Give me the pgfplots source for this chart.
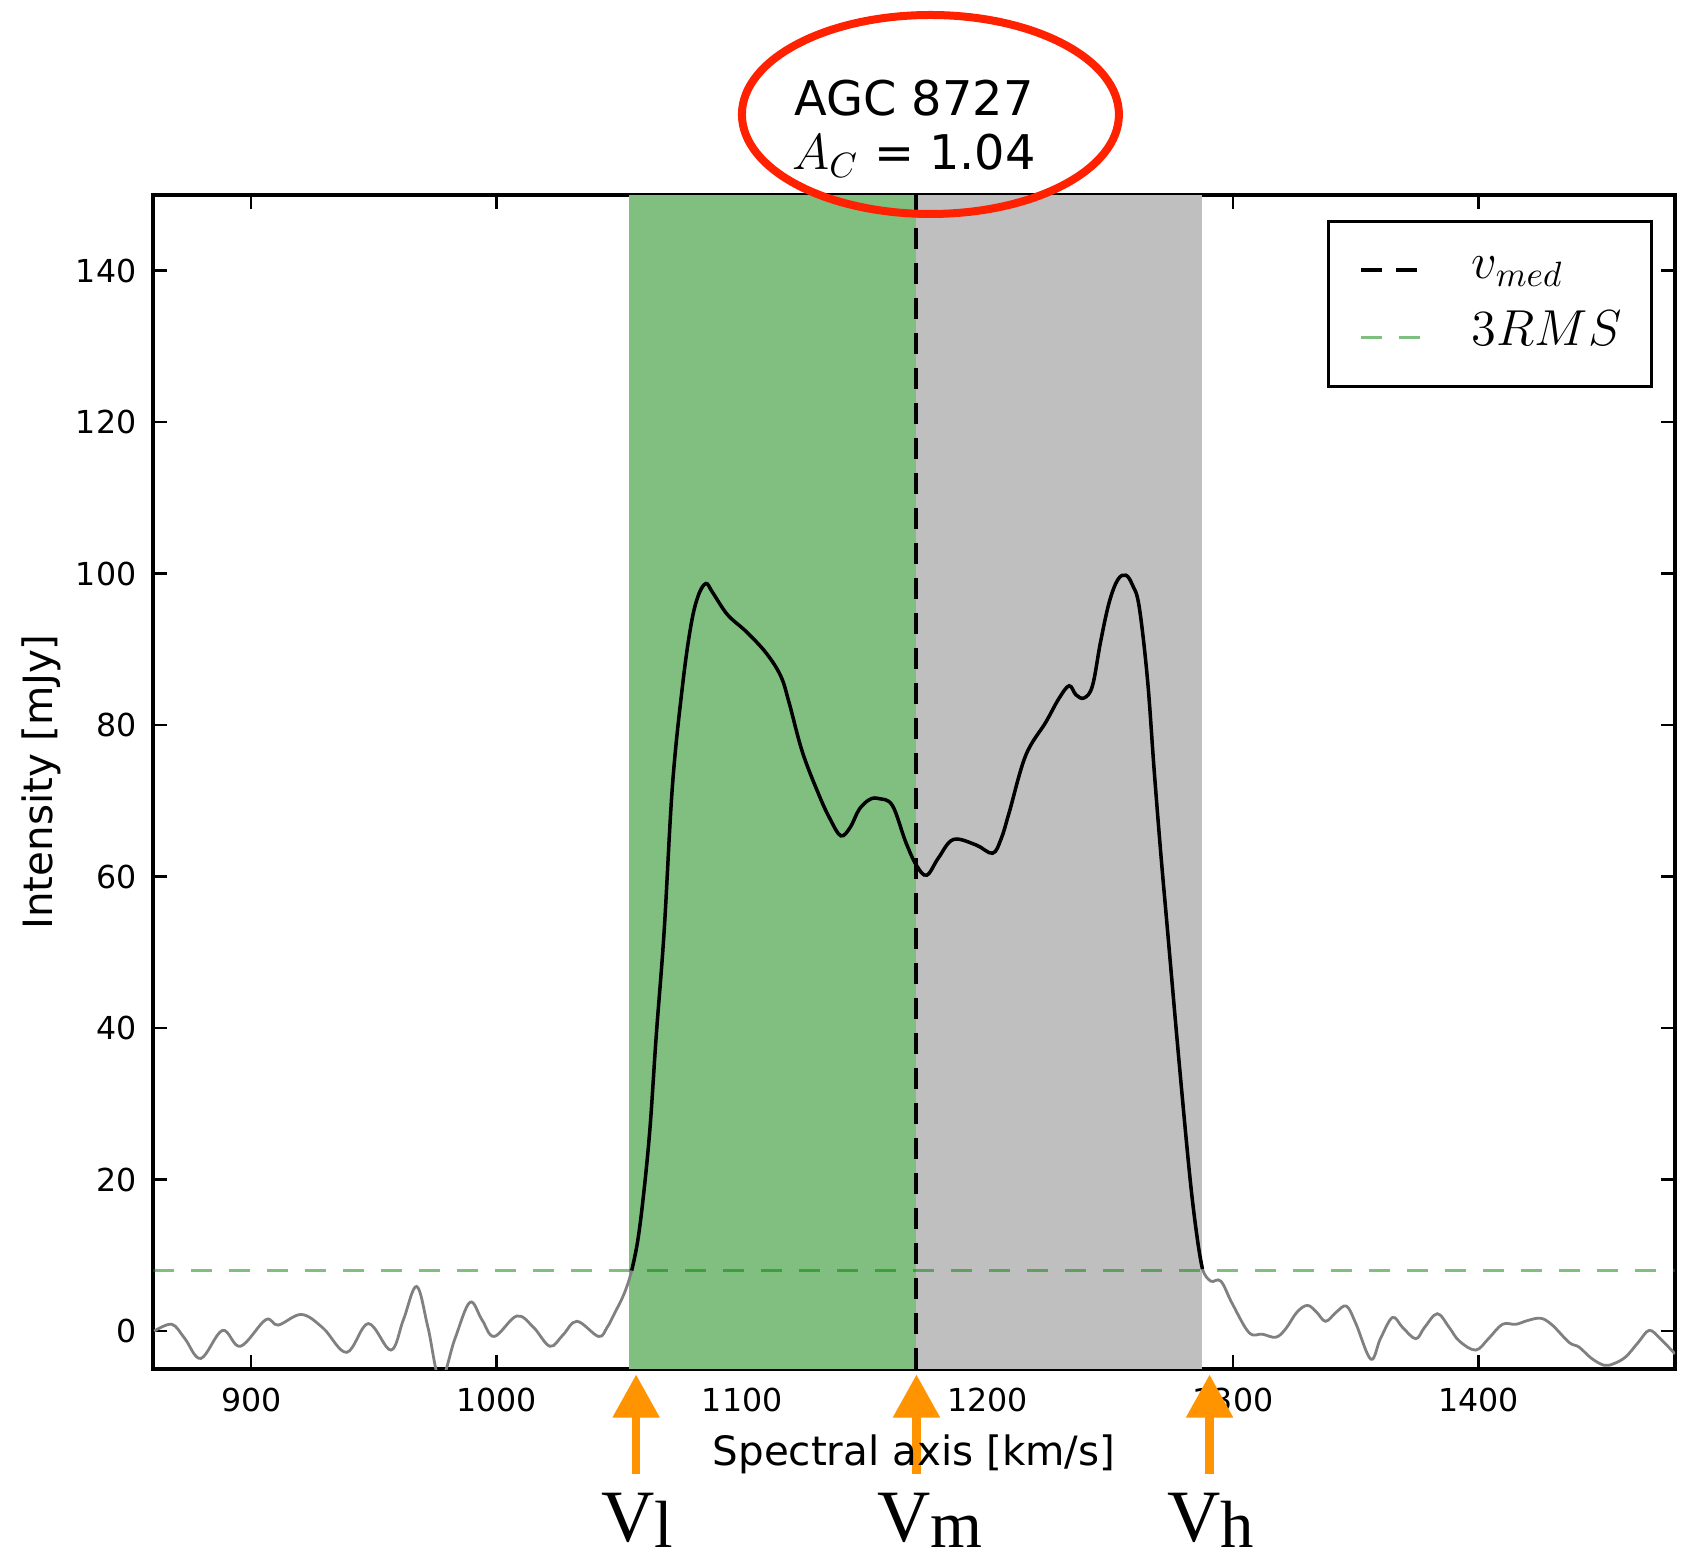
\documentclass[border=0pt]{standalone}
\usepackage{fontspec}
\setmainfont{DejaVu Sans}
\newfontfamily\serifV{Liberation Serif}
\usepackage{pgfplots}
\usepackage{pgfplotstable}
\pgfplotsset{compat=1.18}
\usetikzlibrary{arrows.meta,calc}

\definecolor{bandgreen}{rgb}{0.5,0.75,0.5}
\definecolor{bandgray}{rgb}{0.75,0.75,0.75}
\definecolor{mplgreen}{rgb}{0,0.5,0}
\definecolor{arrorange}{rgb}{1,0.58,0}
\definecolor{circred}{rgb}{1,0.13,0}

% HI spectrum
\pgfplotstableread{
v I
860.5 0.0
867.7 0.9
873 -1.0
879.5 -3.6
888.3 0.1
895.6 -2.0
905.9 1.5
911 0.8
920.5 2.2
929.3 0.4
938.9 -2.8
947.7 1.0
956.9 -2.5
962 1.5
967.4 5.9
972 0.5
977 -6.5
983 -1.0
989.1 3.8
994 1.5
999 -0.7
1008.2 2.0
1015 0.5
1021.7 -2.0
1027 -0.5
1032.7 1.3
1041.5 -0.7
1045 0.5
1048.1 2.4
1052 5.0
1055 8.0
1057.5 12
1060 18.5
1062.5 27
1065 39
1068.2 52.7
1071.6 72.0
1075.7 85.2
1079.1 93.1
1082 97
1085.2 98.7
1088 97.5
1094 94.6
1101.5 92.4
1109.6 89.6
1115.7 86.5
1119.1 83.0
1124.6 76.4
1131.4 70.7
1136 67.5
1140.2 65.4
1144 66.5
1147.7 68.9
1152 70.2
1155.8 70.3
1161.2 69.4
1166.6 64.6
1171 61.5
1175.2 60.2
1180 62.5
1186 64.9
1195.2 64.2
1202 63.1
1205.5 65
1208.8 68.5
1215.5 76.0
1223.7 80.4
1229 83.5
1233.2 85.2
1236 84
1239.3 83.6
1242.7 85.2
1246 91
1249.5 96.2
1253 99.2
1256.3 99.8
1259 98.5
1261.7 95.7
1265.1 86.1
1267.8 74.2
1270.5 63.2
1273.2 53.2
1278 35.5
1282.5 20
1285.5 12
1287.5 8.2
1290.9 6.6
1295 6.6
1299.7 3.6
1306.5 -0.2
1311.9 -0.4
1317.4 -0.8
1321.4 0.3
1326 2.5
1330.3 3.4
1334 2.5
1337.7 1.3
1342 2.5
1346.2 3.3
1350 1.0
1356.1 -3.7
1360 -1.0
1364.9 1.8
1369 0.5
1374.4 -1.0
1378 0.5
1383.2 2.3
1388 0.5
1392.1 -1.3
1398.8 -2.5
1404 -1.0
1409.7 0.9
1415.1 0.9
1420 1.4
1425.3 1.7
1430 0.8
1436.9 -1.5
1440.9 -2.1
1446 -3.6
1451.1 -4.5
1455 -4.3
1459.9 -3.4
1465 -1.5
1469.5 0.1
1474 -1.0
1480 -3.0
}\spectrum

\begin{document}
\begin{tikzpicture}
\begin{axis}[
  name=ax,
  scale only axis, width=152.2mm, height=117.4mm,
  xmin=860, xmax=1480, ymin=-5, ymax=150,
  xtick={900,1000,...,1400}, ytick={0,20,...,140},
  axis line style={line width=0.35mm},
  every tick/.style={black, line width=0.25mm},
  major tick length=1.4mm,
  tick align=inside,
  /pgf/number format/assume math mode=true,
  /pgf/number format/1000 sep={},
  tick label style={font=\fontsize{9}{10}\selectfont, inner sep=0pt},
  xticklabel style={anchor=base, yshift=-4.2mm},
  yticklabel style={anchor=east, xshift=-1.6mm},
  xlabel={Spectral axis [km/s]},
  ylabel={Intensity [mJy]},
  label style={font=\fontsize{11.5}{12}\selectfont},
  xlabel style={at={(axis description cs:0.5,0)}, anchor=base, yshift=-9.6mm},
  ylabel style={at={(axis description cs:-0.0736,0.5)}, anchor=center},
  clip mode=individual,
  legend style={at={(1,1)}, anchor=north east, xshift=-2.2mm, yshift=-2.5mm,
    draw=black, line width=0.3mm, inner xsep=3mm, inner ysep=3.1mm,
    row sep=3.1mm, column sep=4.6mm, font=\fontsize{14.5}{15}\selectfont,
    nodes={inner sep=0pt, text height=2.6mm, text depth=1mm}},
  legend cell align=left,
  legend image code/.code={\draw[#1] (0mm,0mm) -- (6.3mm,0mm);},
]
% channel ranges
\addplot[fill=bandgreen, draw=none, forget plot] coordinates {(1054,-5) (1054,150) (1171,150) (1171,-5)} -- cycle;
\addplot[fill=bandgray, draw=none, forget plot] coordinates {(1171,-5) (1171,150) (1287.5,150) (1287.5,-5)} -- cycle;

% spectrum: grey everywhere, black inside the 3RMS range
\addplot[gray, line width=0.28mm, smooth, tension=0.6, forget plot] table[x=v, y=I] {\spectrum};
\addplot[black, line width=0.35mm, smooth, tension=0.6, forget plot,
  restrict x to domain=1054.9:1287.6] table[x=v, y=I] {\spectrum};

\addplot[black, line width=0.4mm, dash pattern=on 2.1mm off 1.4mm] coordinates {(1171,-5) (1171,150)};
\addlegendentry{$v_{med}$}
\addplot[mplgreen, opacity=0.5, line width=0.28mm, dash pattern=on 2.1mm off 1.7mm] coordinates {(860,8) (1480,8)};
\addlegendentry{$3RMS$}

% title and highlight
\node[anchor=base, inner sep=0pt, font=\fontsize{13.6}{14}\selectfont, yshift=7.9mm] at (rel axis cs:0.5,1) {AGC 8727};
\node[anchor=base, inner sep=0pt, font=\fontsize{13.6}{14}\selectfont, yshift=2.55mm] at (rel axis cs:0.5,1) {$A_C$ = 1.04};
\draw[circred, line width=0.8mm] ([yshift=8.05mm]rel axis cs:0.5108,1) ellipse [x radius=18.85mm, y radius=9.95mm];

% velocity markers
\draw[arrorange, line width=0.85mm, -{Triangle[width=4.5mm,length=4.3mm]}]
  ([yshift=-10.5mm]axis cs:1056.8,-5) -- ([yshift=-0.55mm]axis cs:1056.8,-5);
\draw[arrorange, line width=0.85mm, -{Triangle[width=4.5mm,length=4.3mm]}]
  ([yshift=-10.5mm]axis cs:1171,-5) -- ([yshift=-0.55mm]axis cs:1171,-5);
\draw[arrorange, line width=0.85mm, -{Triangle[width=4.5mm,length=4.3mm]}]
  ([yshift=-10.5mm]axis cs:1290.4,-5) -- ([yshift=-0.55mm]axis cs:1290.4,-5);
\node[anchor=base west, inner sep=0pt, font=\serifV\fontsize{21}{21}\selectfont, yshift=-17.2mm] at (rel axis cs:0.2942,0) {V\raisebox{-0.6mm}{\fontsize{19}{19}\selectfont l}};
\node[anchor=base west, inner sep=0pt, font=\serifV\fontsize{21}{21}\selectfont, yshift=-17.2mm] at (rel axis cs:0.4755,0) {V\raisebox{-0.6mm}{\fontsize{19}{19}\selectfont m}};
\node[anchor=base west, inner sep=0pt, font=\serifV\fontsize{21}{21}\selectfont, yshift=-17.2mm] at (rel axis cs:0.6658,0) {V\raisebox{-0.6mm}{\fontsize{19}{19}\selectfont h}};
\end{axis}
\path ([shift={(-15.3mm,-18.7mm)}]ax.south west) rectangle ([shift={(0.6mm,19.5mm)}]ax.north east);
\end{tikzpicture}
\end{document}
